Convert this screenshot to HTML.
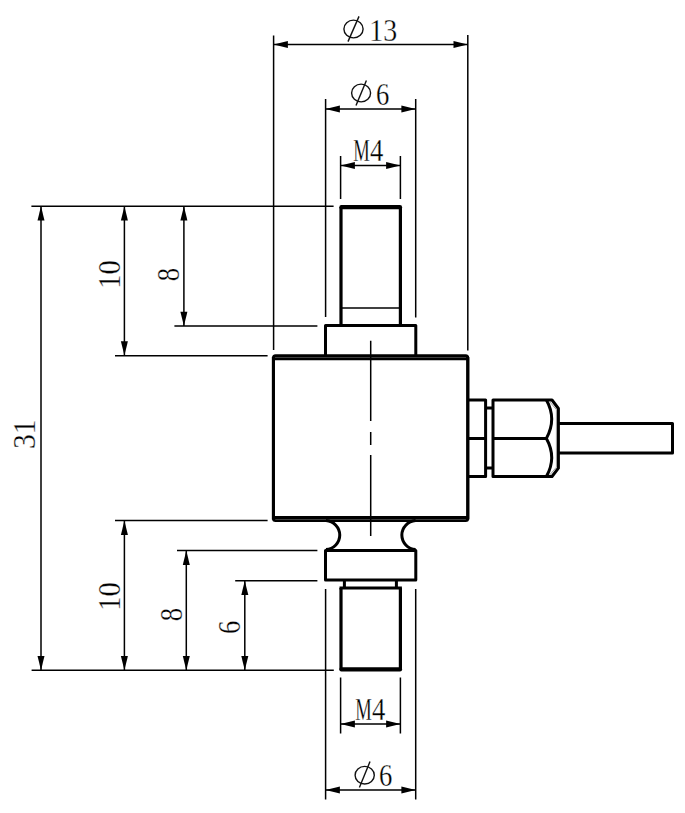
<!DOCTYPE html>
<html>
<head>
<meta charset="utf-8">
<title>Drawing</title>
<style>
html,body{margin:0;padding:0;background:#fff;}
body{width:685px;height:813px;overflow:hidden;}
svg{display:block;}
text{font-family:"Liberation Serif",serif;font-size:31px;fill:#000;stroke:#fff;stroke-width:0.3px;}
</style>
</head>
<body>
<svg width="685" height="813" viewBox="0 0 685 813">
<rect x="0" y="0" width="685" height="813" fill="#ffffff"/>
<defs>
  <path id="ar" d="M0,0 L14.3,-3.5 L14.3,3.5 Z" fill="#000"/>
</defs>

<!-- thin lines -->
<g stroke="#000" stroke-width="1.5" fill="none">
  <!-- phi13 -->
  <path d="M273.6,35.5 V350 M467.8,35 V350.4 M273.6,44.4 H467.8"/>
  <!-- phi6 top -->
  <path d="M325.6,99 V317 M415.7,99 V317.6 M325.6,109 H415.7"/>
  <!-- M4 top -->
  <path d="M340.6,156 V199 M400.4,156 V199 M340.6,165.6 H400.4"/>
  <!-- left horizontals -->
  <path d="M31.4,206.2 H333.6 M174.4,326 H317.4 M115,355.8 H267.6 M115,520.6 H267.6 M177,550.6 H317.4 M235.2,580.7 H317.4 M31.6,670.2 H333.8"/>
  <!-- left verticals -->
  <path d="M41,206.2 V670.2 M124.4,206.2 V355.5 M183.9,206.2 V326 M124.4,520.6 V670.2 M186.3,550.6 V670.2 M244.8,580.7 V670.2"/>
  <!-- M4 bottom -->
  <path d="M340.6,677.4 V733.6 M400.4,677.4 V733.6 M340.6,724 H400.4"/>
  <!-- phi6 bottom -->
  <path d="M325.6,589 V799.6 M415.7,589 V799.6 M325.6,790 H415.7"/>
  <!-- centerline -->
  <path d="M370.7,340.8 V421 M370.7,432 V445 M370.7,455 V536"/>
  <!-- thread end -->
  <path d="M341,308 H400.4"/>
</g>

<!-- arrows -->
<g>
  <use href="#ar" transform="translate(273.6,44.4)"/>
  <use href="#ar" transform="translate(467.8,44.4) rotate(180)"/>
  <use href="#ar" transform="translate(325.6,109)"/>
  <use href="#ar" transform="translate(415.7,109) rotate(180)"/>
  <use href="#ar" transform="translate(340.6,165.6)"/>
  <use href="#ar" transform="translate(400.4,165.6) rotate(180)"/>
  <use href="#ar" transform="translate(340.6,724)"/>
  <use href="#ar" transform="translate(400.4,724) rotate(180)"/>
  <use href="#ar" transform="translate(325.6,790)"/>
  <use href="#ar" transform="translate(415.7,790) rotate(180)"/>
  <!-- vertical -->
  <use href="#ar" transform="translate(41,206.2) rotate(90)"/>
  <use href="#ar" transform="translate(41,670.2) rotate(-90)"/>
  <use href="#ar" transform="translate(124.4,206.2) rotate(90)"/>
  <use href="#ar" transform="translate(124.4,355.5) rotate(-90)"/>
  <use href="#ar" transform="translate(183.9,206.2) rotate(90)"/>
  <use href="#ar" transform="translate(183.9,326) rotate(-90)"/>
  <use href="#ar" transform="translate(124.4,520.6) rotate(90)"/>
  <use href="#ar" transform="translate(124.4,670.2) rotate(-90)"/>
  <use href="#ar" transform="translate(186.3,550.6) rotate(90)"/>
  <use href="#ar" transform="translate(186.3,670.2) rotate(-90)"/>
  <use href="#ar" transform="translate(244.8,580.7) rotate(90)"/>
  <use href="#ar" transform="translate(244.8,670.2) rotate(-90)"/>
</g>

<!-- thick part outline -->
<g stroke="#000" stroke-width="3.2" fill="none" stroke-linejoin="round" stroke-linecap="butt">
  <!-- upper stud -->
  <path d="M341,326 V207.5 M400.4,326 V207.5"/>
  <path d="M341.4,207.2 H400" stroke-width="4.2" stroke-linecap="round"/>
  <!-- upper shoulder -->
  <path d="M325.5,357 V325.6 H415.8 V357" stroke-width="3"/>
  <!-- body -->
  <rect x="273.4" y="355.6" width="194.4" height="165.1" rx="2.2" ry="2.2" stroke-width="2.8"/>
  <path d="M273.4,357 V519.5 M467.8,357 V519.5" stroke-width="3.1"/>
  <path d="M273.4,358.8 H467.8 M273.4,517.5 H467.8" stroke-width="3.1"/>
  <!-- neck -->
  <path d="M326,520.5 A15,14.6 0 0 1 326,549.6 M415.6,520.5 A15,14.6 0 0 0 415.6,549.6" stroke-width="3"/>
  <!-- lower shoulder -->
  <path d="M325.5,550.4 H415.8 V580 H325.5 Z" stroke-width="3"/>
  <!-- step -->
  <path d="M344.4,580 V588 M396.4,580 V588" stroke-width="3"/>
  <!-- lower stud -->
  <path d="M339.5,588 H401.9" stroke-width="3"/>
  <path d="M341,588 V669.6 M400.4,588 V669.6"/>
  <path d="M341.4,669.4 H400" stroke-width="4.2" stroke-linecap="round"/>
  <!-- connector -->
  <path d="M468,400 H485.6 V476.4 H468 M468,438.4 H485.6 M485.6,408 H493 M485.6,468 H493" stroke-width="3"/>
  <path d="M493,400 H552 L558.4,408.5 V468.2 L552,476.5 H493 Z M493,438.4 H546.4" stroke-width="3"/>
  <path d="M546.4,400 Q557,419 546.4,438.4 Q557,457.5 546.4,476.5" stroke-width="3"/>
  <path d="M549.6,401.6 L556.4,409.6 V467.2 L549.6,475" stroke-width="0.7" stroke="#777"/>
  <!-- cable -->
  <path d="M558.4,423.5 H672.5 V453 H558.4" stroke-width="3"/>
</g>

<!-- phi symbols -->
<g stroke="#111" stroke-width="1.4" fill="none">
  <ellipse cx="353.5" cy="29" rx="9.6" ry="8.9"/>
  <path d="M359,16.4 L348,41.6"/>
  <ellipse cx="361.1" cy="93" rx="9.5" ry="8.9"/>
  <path d="M366.4,80.4 L356,105.6"/>
  <ellipse cx="364.7" cy="775.2" rx="9.6" ry="8.8"/>
  <path d="M370,761.6 L359.4,787.6"/>
</g>

<!-- text -->
<g text-anchor="middle">
  <text transform="translate(383.2,41) scale(0.9,1)">13</text>
  <text transform="translate(382.7,105) scale(0.86,1)">6</text>
  <text transform="translate(361.5,161) scale(0.6,1)">M</text>
  <text transform="translate(376.7,161) scale(0.86,1)">4</text>
  <text transform="translate(363.5,720) scale(0.6,1)">M</text>
  <text transform="translate(378.7,720) scale(0.86,1)">4</text>
  <text transform="translate(385.7,786) scale(0.86,1)">6</text>
  <!-- rotated -->
  <text transform="translate(35.3,434.2) rotate(-90) scale(0.96,1.01)">31</text>
  <text transform="translate(119.6,274.5) rotate(-90) scale(0.92,1)">10</text>
  <text transform="translate(178.5,274.6) rotate(-90) scale(0.86,1)">8</text>
  <text transform="translate(120.4,596.4) rotate(-90) scale(0.92,1)">10</text>
  <text transform="translate(181.8,614.5) rotate(-90) scale(0.86,1)">8</text>
  <text transform="translate(240.4,627.4) rotate(-90) scale(0.86,1)">6</text>
</g>
</svg>
</body>
</html>
